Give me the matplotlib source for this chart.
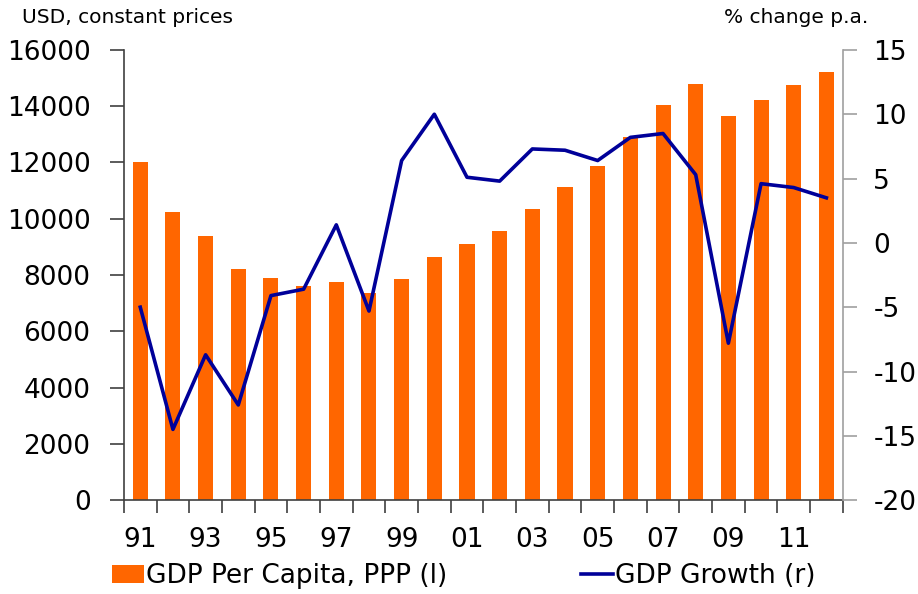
import matplotlib
matplotlib.use("Agg")
import matplotlib.pyplot as plt
import numpy as np

# Data
years = list(range(1991, 2013))
gdp_per_capita = [12000, 10250, 9380, 8210, 7880, 7620, 7750, 7350, 7870, 8650,
                  9090, 9580, 10330, 11120, 11890, 12920, 14040, 14790, 13640,
                  14210, 14740, 15210]
gdp_growth = [-5.0, -14.5, -8.7, -12.6, -4.1, -3.6, 1.4, -5.3, 6.4, 10.0,
              5.1, 4.8, 7.3, 7.2, 6.4, 8.2, 8.5, 5.3, -7.8, 4.6, 4.3, 3.5]
tick_labels = ["91", "93", "95", "97", "99", "01", "03", "05", "07", "09", "11"]

orange = "#FF6600"
navy = "#000099"

plt.rcParams['font.family'] = ['DejaVu Sans']
plt.rcParams['axes.unicode_minus'] = False

fig = plt.figure(figsize=(9.18, 5.94), dpi=100)
ax = fig.add_axes([0.135, 0.158, 0.783, 0.758])
x = np.arange(len(years))

bars = ax.bar(x, gdp_per_capita, width=0.46, color=orange, label="GDP Per Capita, PPP (l)")
ax.set_xlim(-0.5, len(years) - 0.5)
ax.set_ylim(0, 16000)
ax.set_yticks(np.arange(0, 16001, 2000))

# x: boundary ticks as minor, labels on odd years
ax.set_xticks(x[::2])
ax.set_xticklabels(tick_labels)
ax.set_xticks(np.arange(-0.5, len(years)), minor=True)
ax.tick_params(axis="x", which="major", length=0, pad=19, labelsize=19)
ax.tick_params(axis="x", which="minor", length=9, width=1.2, color="#404040")
ax.tick_params(axis="y", length=10, width=1.2, pad=14, labelsize=19, color="#404040")

for s in ["top", "right"]:
    ax.spines[s].set_visible(False)
ax.spines["left"].set_color("#404040")
ax.spines["left"].set_linewidth(1.2)
ax.spines["bottom"].set_color("#404040")
ax.spines["bottom"].set_linewidth(1.2)

ax2 = ax.twinx()
line, = ax2.plot(x, gdp_growth, color=navy, linewidth=2.6, label="GDP Growth (r)")
ax2.set_ylim(-20, 15)
ax2.set_yticks(np.arange(-20, 16, 5))
ax2.tick_params(axis="y", length=10, width=1.2, pad=12, labelsize=19, color="#A0A0A0")
for s in ["top", "left", "bottom"]:
    ax2.spines[s].set_visible(False)
ax2.spines["right"].set_color("#A0A0A0")
ax2.spines["right"].set_linewidth(1.2)

fig.text(0.024, 0.97, "USD, constant prices", fontsize=14.5, va="center", ha="left")
fig.text(0.946, 0.97, "% change p.a.", fontsize=14.5, va="center", ha="right")

leg1 = fig.legend([bars], ["GDP Per Capita, PPP (l)"], loc="center left",
                  bbox_to_anchor=(0.122, 0.03), frameon=False, fontsize=19,
                  handlelength=1.2, handletextpad=0.1, borderaxespad=0, borderpad=0)
leg2 = fig.legend([line], ["GDP Growth (r)"], loc="center left",
                  bbox_to_anchor=(0.633, 0.03), frameon=False, fontsize=19,
                  handlelength=1.2, handletextpad=0.1, borderaxespad=0, borderpad=0)

plt.savefig("out.png", dpi=100)
